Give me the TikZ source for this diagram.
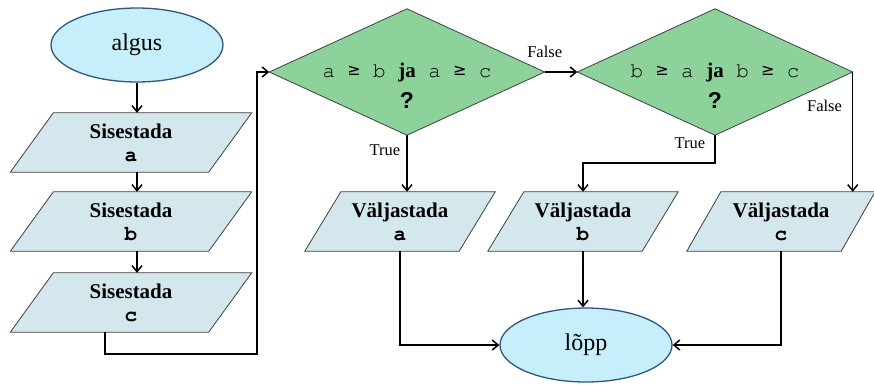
\documentclass[tikz,border=0pt]{standalone}
\usepackage{fontspec}
\setmainfont{Liberation Serif}
\setmonofont{texgyrecursor}[Extension=.otf, UprightFont=*-regular, BoldFont=*-bold]
\newfontfamily\qfont{Liberation Sans}
\newfontfamily\symfont{DejaVu Sans}
\usetikzlibrary{shapes.geometric,arrows.meta,backgrounds,calc}
\definecolor{ellfill}{HTML}{C6EEFB}
\definecolor{elldraw}{HTML}{34557F}
\definecolor{parafill}{HTML}{D3E7EC}
\definecolor{diafill}{HTML}{8DD19B}
\definecolor{shapedraw}{HTML}{404040}
\newcommand\parashape[2]{\path[paraface] ($(#1.north west)+(#2,0)$) -- ($(#1.north east)+(#2,0)$) -- ($(#1.south east)-(#2,0)$) -- ($(#1.south west)-(#2,0)$) -- cycle;}
\newcommand\diashape[1]{\path[diaface] (#1.north) -- (#1.east) -- (#1.south) -- (#1.west) -- cycle;}
\newcommand\mygeq{\makebox[12.6pt]{\raisebox{2pt}{\symfont\fontsize{16}{16}\selectfont ≥}}}
\begin{document}
\begin{tikzpicture}[x=1pt,y=-1pt,
  term/.style={ellipse, draw=elldraw, fill=ellfill, line width=1.3pt, minimum width=172pt, minimum height=74pt, inner sep=0pt, font=\fontsize{24}{28}\selectfont},
  inbox/.style={rectangle, minimum width=198pt, minimum height=59pt, inner sep=0pt, align=center, font=\fontsize{21}{23}\selectfont},
  outbox/.style={inbox, minimum width=154pt},
  decbox/.style={rectangle, minimum width=275pt, minimum height=126pt, inner sep=0pt, align=center, font=\fontsize{21}{31}\selectfont},
  paraface/.style={fill=parafill, draw=shapedraw, line width=0.8pt},
  diaface/.style={fill=diafill, draw=shapedraw, line width=0.8pt},
  flow/.style={line width=1.5pt, -{Straight Barb[length=6pt, width=10pt]}},
  lbl/.style={font=\fontsize{16.5}{18}\selectfont, inner sep=1pt},
]
\useasboundingbox (0,0) rectangle (874,384);

\node[term] (algus) at (137,45) {algus};
\node[inbox] (sa) at (131,142.5) {\textbf{Sisestada}\\\texttt{\textbf{a}}};
\node[inbox] (sb) at (131,221.5) {\textbf{Sisestada}\\\texttt{\textbf{b}}};
\node[inbox] (sc) at (131,302.5) {\textbf{Sisestada}\\\texttt{\textbf{c}}};
\node[decbox] (d1) at (407,72) {\rule{0pt}{10pt}\\\texttt{a \mygeq{} b }\textbf{ja}\texttt{ a \mygeq{} c}\\{\qfont\bfseries\fontsize{23}{31}\selectfont ?}};
\node[decbox] (d2) at (715,72) {\rule{0pt}{10pt}\\\texttt{b \mygeq{} a }\textbf{ja}\texttt{ b \mygeq{} c}\\{\qfont\bfseries\fontsize{23}{31}\selectfont ?}};
\node[outbox] (va) at (400,221.5) {\textbf{Väljastada}\\\texttt{\textbf{a}}};
\node[outbox] (vb) at (583,221.5) {\textbf{Väljastada}\\\texttt{\textbf{b}}};
\node[outbox] (vc) at (781,221.5) {\textbf{Väljastada}\\\texttt{\textbf{c}}};
\node[term] (lopp) at (586,345) {lõpp};
\coordinate (loop) at (257,354);

\begin{scope}[on background layer]
  \parashape{sa}{21.5}
  \parashape{sb}{21.5}
  \parashape{sc}{21.5}
  \parashape{va}{18}
  \parashape{vb}{18}
  \parashape{vc}{17}
  \diashape{d1}
  \diashape{d2}
\end{scope}

\draw[flow] (algus.south) -- (algus.south |- sa.north);
\draw[flow] ([xshift=6pt]sa.south) -- ([xshift=6pt]sb.north);
\draw[flow] ([xshift=6pt]sb.south) -- ([xshift=6pt]sc.north);
\draw[flow] ([xshift=-26pt]sc.south) |- (loop) |- (d1.west);
\draw[flow] (d1.east) -- node[lbl, pos=0, yshift=20pt] {False} (d2.west);
\draw[flow] (d1.south) -- node[lbl, pos=0.26, left=5pt] {True} (d1.south |- va.north);
\draw[flow] (d2.south) -- node[lbl, pos=0.29, left=8pt] {True} ++(0,28) -| (vb.north);
\draw[flow] (d2.east) -- node[lbl, pos=0.28, left=9pt] {False} (d2.east |- vc.north);
\draw[flow] (va.south) |- (lopp.west);
\draw[flow] (vb.south) -- (vb.south |- lopp.north);
\draw[flow] (vc.south) |- (lopp.east);
\end{tikzpicture}
\end{document}
